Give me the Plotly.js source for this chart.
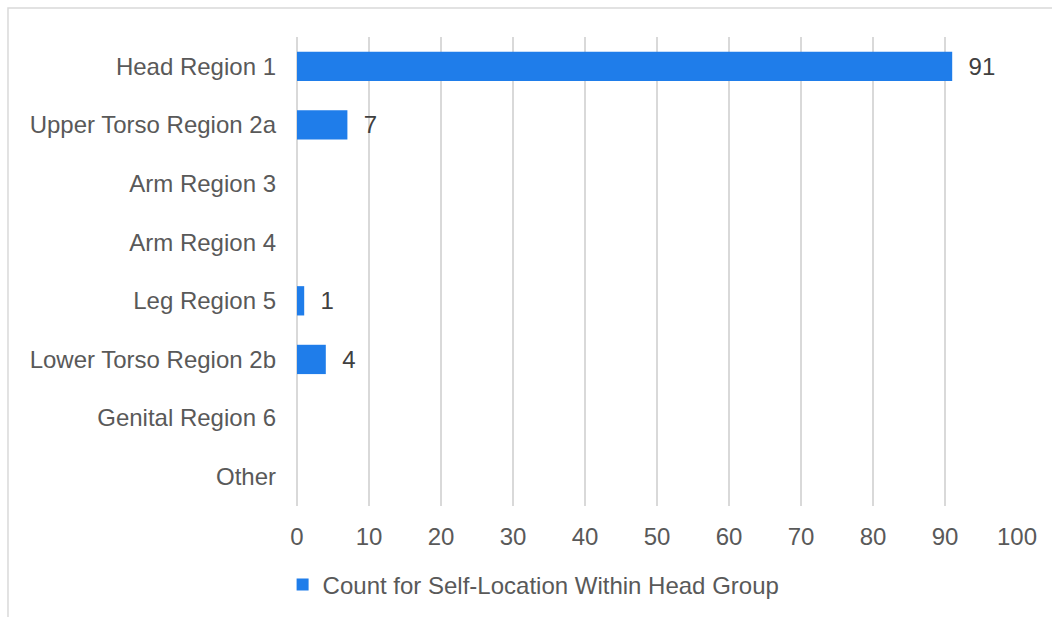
<!DOCTYPE html>
<html>
<head>
<meta charset="utf-8">
<script src="https://cdn.plot.ly/plotly-3.0.1.min.js"></script>
<style>
  html, body { margin: 0; padding: 0; background: #ffffff; }
  #chart { width: 1052px; height: 617px; }
</style>
</head>
<body>
<div id="chart"></div>
<script>
var categories = [
  "Head Region 1",
  "Upper Torso Region 2a",
  "Arm Region 3",
  "Arm Region 4",
  "Leg Region 5",
  "Lower Torso Region 2b",
  "Genital Region 6",
  "Other"
];
var counts = [91, 7, 0, 0, 1, 4, 0, 0];
var seriesName = "Count for Self-Location Within Head Group";
var xTicks = [0, 10, 20, 30, 40, 50, 60, 70, 80, 90, 100];

var labels = counts.map(function (v) { return v ? "\u00a0\u00a0" + v : ""; });

var trace = {
  type: "bar",
  orientation: "h",
  y: categories,
  x: counts,
  name: seriesName,
  text: labels,
  textposition: "outside",
  cliponaxis: false,
  textfont: { family: "Liberation Sans, Arial, sans-serif", size: 24, color: "#404040" },
  marker: { color: "#1F7DEA" },
  hoverinfo: "x+y"
};

var layout = {
  width: 1052,
  height: 617,
  margin: { l: 297, r: 35, t: 37, b: 111, autoexpand: false },
  paper_bgcolor: "#ffffff",
  plot_bgcolor: "#ffffff",
  font: { family: "Liberation Sans, Arial, sans-serif", size: 24, color: "#595959" },
  bargap: 0.5,
  showlegend: true,
  legend: {
    orientation: "h",
    x: -0.02,
    xanchor: "left",
    y: -0.12,
    yanchor: "top",
    font: { size: 24, color: "#595959" },
    bgcolor: "rgba(0,0,0,0)"
  },
  xaxis: {
    range: [0, 100],
    tickvals: xTicks,
    ticktext: xTicks.map(String),
    showgrid: true,
    gridcolor: "#d9d9d9",
    gridwidth: 1.5,
    zeroline: true,
    zerolinecolor: "#d9d9d9",
    zerolinewidth: 1.5,
    showline: false,
    ticks: "",
    ticklabelstandoff: 14,
    automargin: false,
    fixedrange: true
  },
  yaxis: {
    type: "category",
    autorange: "reversed",
    showgrid: false,
    zeroline: false,
    showline: false,
    ticks: "",
    ticklabelstandoff: 20,
    automargin: false,
    fixedrange: true
  },
  shapes: [{
    type: "rect",
    xref: "paper", yref: "paper",
    x0: -0.4014, x1: 1.2,
    y0: -0.5, y1: 1.0618,
    line: { color: "#d9d9d9", width: 1.5 },
    fillcolor: "rgba(0,0,0,0)",
    layer: "below"
  }]
};

Plotly.newPlot("chart", [trace], layout, { displayModeBar: false, staticPlot: true });
</script>
</body>
</html>
